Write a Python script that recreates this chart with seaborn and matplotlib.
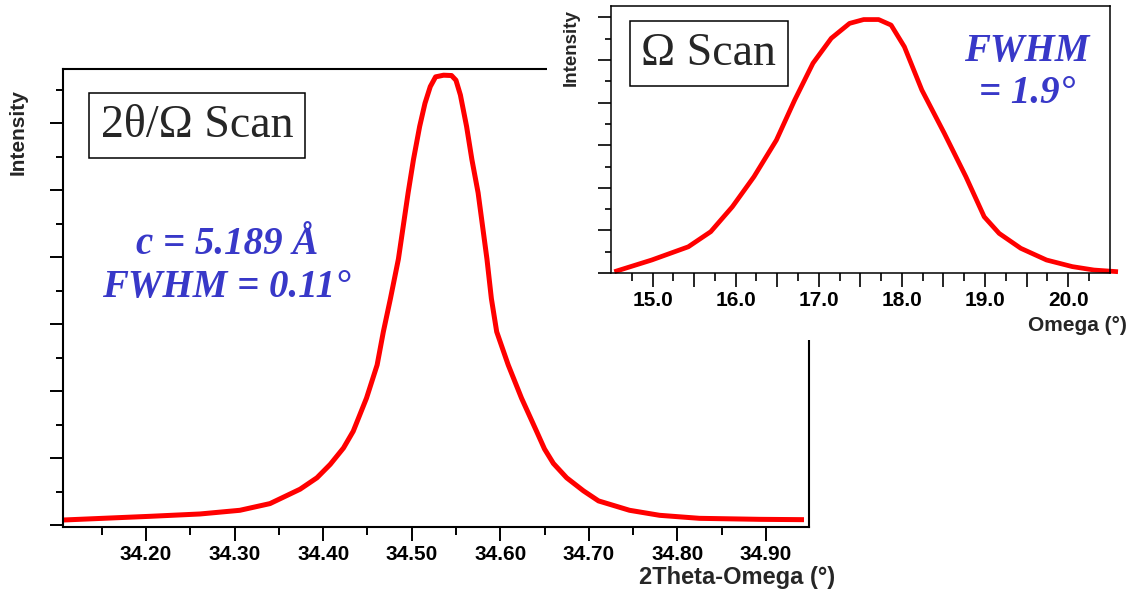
import numpy as np
import pandas as pd
import matplotlib
matplotlib.use('Agg')
import matplotlib.pyplot as plt
from matplotlib.patches import Rectangle
from matplotlib.ticker import MultipleLocator, FixedLocator, FuncFormatter, NullFormatter
import seaborn as sns

# 2theta/omega scan (intensita' in unita' arbitrarie)
two_theta = [34.1066, 34.2045, 34.261, 34.306, 34.340, 34.374, 34.393, 34.408, 34.423, 34.434,
             34.449, 34.461, 34.468, 34.476, 34.485, 34.496, 34.502, 34.509, 34.515, 34.521,
             34.527, 34.536, 34.545, 34.550, 34.555, 34.562, 34.568, 34.575, 34.585, 34.590,
             34.596, 34.609, 34.624, 34.641, 34.650, 34.660, 34.675, 34.694, 34.711, 34.746,
             34.780, 34.825, 34.893, 34.943]
two_theta_int = [0.16, 0.27, 0.34, 0.45, 0.65, 1.08, 1.42, 1.82, 2.31, 2.81,
                 3.80, 4.79, 5.78, 6.77, 7.95, 9.93, 10.92, 11.91, 12.60, 13.10,
                 13.39, 13.44, 13.43, 13.29, 12.85, 11.91, 10.92, 9.93, 7.95, 6.77,
                 5.78, 4.79, 3.80, 2.81, 2.28, 1.85, 1.42, 1.03, 0.73, 0.45,
                 0.30, 0.21, 0.18, 0.17]

# omega scan (rocking curve)
omega = [14.54, 14.99, 15.43, 15.70, 15.96, 16.22, 16.49, 16.71, 16.93, 17.15,
         17.37, 17.54, 17.72, 17.87, 18.03, 18.24, 18.51, 18.77, 18.99, 19.17,
         19.43, 19.74, 20.05, 20.31, 20.60]
omega_int = [0.06, 0.61, 1.23, 1.94, 3.11, 4.52, 6.24, 8.12, 9.85, 11.02,
             11.72, 11.90, 11.90, 11.64, 10.62, 8.59, 6.56, 4.52, 2.64, 1.86,
             1.16, 0.61, 0.30, 0.14, 0.06]

main_ticks = [34.20, 34.30, 34.40, 34.50, 34.60, 34.70, 34.80, 34.90]
omega_ticks = [15.0, 16.0, 17.0, 18.0, 19.0, 20.0]

df_main = pd.DataFrame({'x': two_theta, 'y': two_theta_int})
df_omega = pd.DataFrame({'x': omega, 'y': omega_int})

sns.set_style("ticks")
plt.rcParams['font.family'] = ['Liberation Sans', 'DejaVu Sans']
plt.rcParams['axes.edgecolor'] = 'black'
plt.rcParams['xtick.color'] = 'black'
plt.rcParams['ytick.color'] = 'black'

BLUE = '#3838C8'
SERIF = ['Liberation Serif', 'DejaVu Serif']

fig = plt.figure(figsize=(11.34, 5.92), dpi=100)
ax = fig.add_axes([0.05582, 0.11030, 0.65785, 0.77399])
ax_in = fig.add_axes([0.53880, 0.53885, 0.43977, 0.45152], zorder=3)

# fondo bianco dietro l'inserto (copre gli assi principali)
cover = Rectangle((547 / 1134, 1 - 340 / 592), 1 - 547 / 1134, 340 / 592,
                  transform=fig.transFigure, facecolor='white', edgecolor='none', zorder=2)
fig.add_artist(cover)

# ---------------- grafico principale ----------------
sns.lineplot(data=df_main, x='x', y='y', ax=ax, color='#FF0000', linewidth=3.6,
             estimator=None, sort=False, solid_joinstyle='round', solid_capstyle='butt')
ax.set_xlim(34.1066, 34.949)
ax.set_ylim(-0.04, 13.64)
ax.xaxis.set_major_locator(FixedLocator(main_ticks))
ax.xaxis.set_minor_locator(FixedLocator([t - 0.05 for t in main_ticks]))
ax.xaxis.set_major_formatter(FuncFormatter(lambda v, p: '%.2f' % v))
ax.yaxis.set_major_locator(MultipleLocator(2))
ax.yaxis.set_minor_locator(MultipleLocator(1))
ax.yaxis.set_major_formatter(NullFormatter())
ax.tick_params(axis='x', which='major', length=10, width=1.4, pad=3, labelsize=15)
ax.tick_params(axis='x', which='minor', length=5.8, width=1.4)
ax.tick_params(axis='y', which='major', length=9.4, width=1.4)
ax.tick_params(axis='y', which='minor', length=4.7, width=1.4)
for lab in ax.get_xticklabels():
    lab.set_fontweight('bold')
for s in ax.spines.values():
    s.set_linewidth(1.5)
ax.set_xlabel('')
ax.set_ylabel('')
ax.text(-0.0607, 0.861, 'Intensity', transform=ax.transAxes, rotation=90,
        ha='center', va='center', fontsize=15, fontweight='bold')
ax.text(1.0344, -0.11, '2Theta-Omega (°)', transform=ax.transAxes,
        ha='right', va='center', fontsize=17, fontweight='bold')
ax.text(0.1792, 0.876, '2θ/Ω Scan', transform=ax.transAxes, ha='center', va='center',
        fontsize=33, family=SERIF,
        bbox=dict(boxstyle='square,pad=0.25', facecolor='white', edgecolor='black', linewidth=1.1))
ax.text(0.219, 0.569, 'c = 5.189 Å\nFWHM = 0.11°', transform=ax.transAxes,
        ha='center', va='center', multialignment='center', fontsize=28,
        family=SERIF, fontweight='bold', fontstyle='italic', color=BLUE)

# ---------------- inserto omega ----------------
sns.lineplot(data=df_omega, x='x', y='y', ax=ax_in, color='#FF0000', linewidth=3.4,
             estimator=None, sort=False, solid_joinstyle='round', solid_capstyle='butt')
for line in ax_in.lines:
    line.set_clip_on(False)
ax_in.set_facecolor('white')
ax_in.set_xlim(14.5, 20.5)
ax_in.set_ylim(0, 12.55)
ax_in.xaxis.set_major_locator(FixedLocator(np.arange(15.0, 20.01, 0.5)))
ax_in.xaxis.set_minor_locator(FixedLocator(np.arange(14.75, 20.26, 0.5)))
ax_in.xaxis.set_major_formatter(
    FuncFormatter(lambda v, p: '%.1f' % v if round(v, 3) in omega_ticks else ''))
ax_in.yaxis.set_major_locator(MultipleLocator(2))
ax_in.yaxis.set_minor_locator(MultipleLocator(1))
ax_in.yaxis.set_major_formatter(NullFormatter())
ax_in.tick_params(axis='x', which='major', length=10, width=1.2, pad=3, labelsize=15)
ax_in.tick_params(axis='x', which='minor', length=5.5, width=1.2)
ax_in.tick_params(axis='y', which='major', length=9.2, width=1.2)
ax_in.tick_params(axis='y', which='minor', length=4.5, width=1.2)
for lab in ax_in.get_xticklabels():
    lab.set_fontweight('bold')
for s in ax_in.spines.values():
    s.set_linewidth(1.1)
ax_in.set_xlabel('')
ax_in.set_ylabel('')
ax_in.text(-0.0788, 0.842, 'Intensity', transform=ax_in.transAxes, rotation=90,
           ha='center', va='center', fontsize=13.5, fontweight='bold')
ax_in.text(1.0347, -0.195, 'Omega (°)', transform=ax_in.transAxes,
           ha='right', va='center', fontsize=15, fontweight='bold')
ax_in.text(0.196, 0.822, 'Ω Scan', transform=ax_in.transAxes, ha='center', va='center',
           fontsize=33, family=SERIF,
           bbox=dict(boxstyle='square,pad=0.25', facecolor='white', edgecolor='black', linewidth=1.1))
ax_in.text(0.834, 0.750, 'FWHM\n= 1.9°', transform=ax_in.transAxes,
           ha='center', va='center', multialignment='center', fontsize=28,
           family=SERIF, fontweight='bold', fontstyle='italic', color=BLUE)

fig.savefig('out.png', dpi=100)
